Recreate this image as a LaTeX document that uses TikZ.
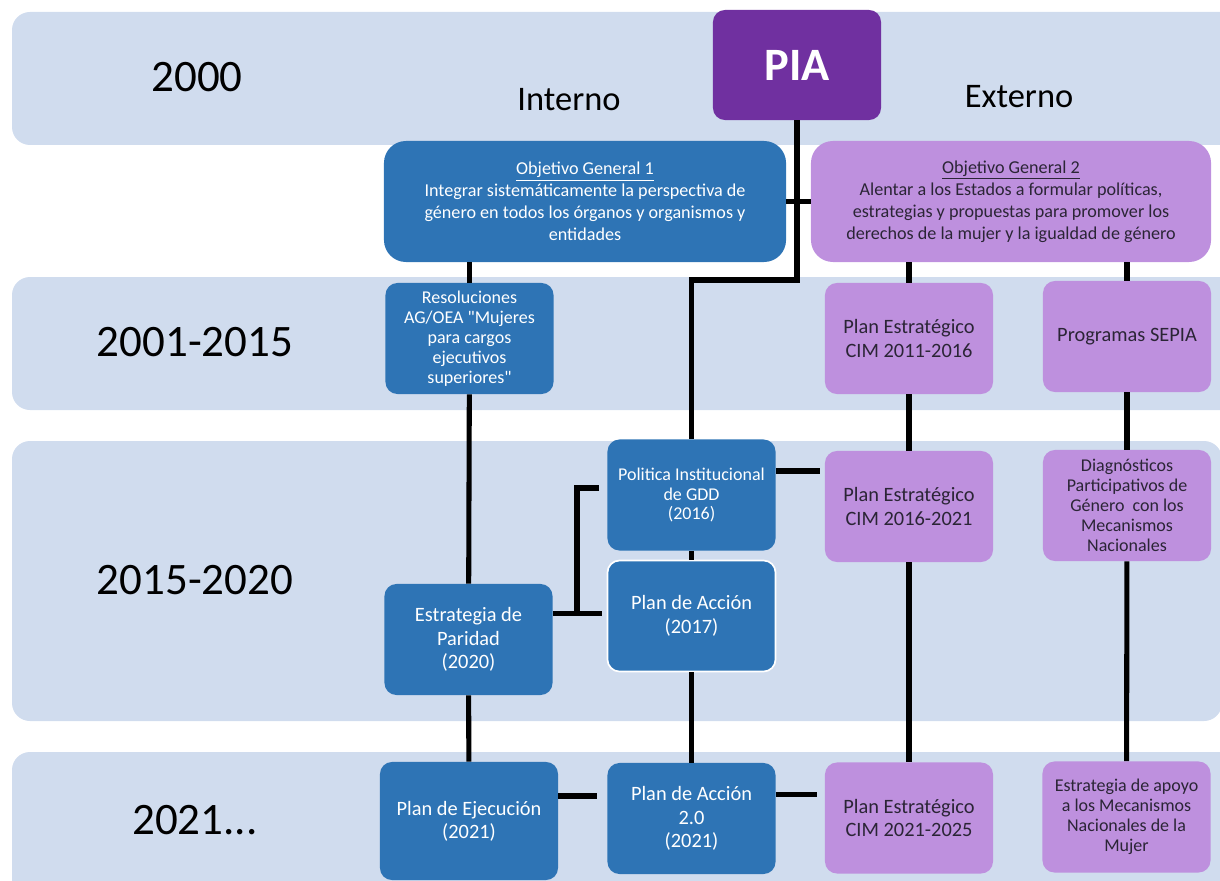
\documentclass[tikz,border=0pt]{standalone}
\usepackage{fontspec}
\setmainfont{Carlito}
\usepackage{xcolor}
\definecolor{franjacol}{HTML}{D0DCEE}
\definecolor{azul}{HTML}{2E74B5}
\definecolor{lila}{HTML}{BE90DE}
\definecolor{morado}{HTML}{7030A0}
\definecolor{tinta}{HTML}{2B2536}

\begin{document}
\begin{tikzpicture}[x=0.025cm, y=-0.025cm,
    franja/.style={fill=franjacol, rounded corners=0.45cm},
    caja/.style={rounded corners=0.3cm, align=center, inner sep=0pt,
                 minimum width=4.2cm, minimum height=2.775cm},
    interno/.style={caja, fill=azul, text=white},
    externo/.style={caja, fill=lila, text=tinta},
    chico/.style={font=\fontsize{12.8}{14.2}\selectfont},
    grande/.style={font=\fontsize{14.5}{16.6}\selectfont},
    anio/.style={font=\fontsize{32}{38}\selectfont},
    lado/.style={font=\fontsize{24.5}{29}\selectfont},
    enlace/.style={line width=3.6pt}]
\useasboundingbox (0,0) rectangle (1220,880);
\clip (0,0) rectangle (1220,880);
%
\fill[franja] (12,12) rectangle (1240,145);
\fill[franja] (12,277) rectangle (1240,410);
\fill[franja] (12,441) rectangle (1222,721);
\fill[franja] (12,752) rectangle (1240,920);
%
\node[anio] (a2000) at (197,77) {2000};
\node[anio] (a2001) at (195,342) {2001-2015};
\node[anio] (a2015) at (195,580) {2015-2020};
\node[anio] (a2021) at (195,820) {2021...};
\node[lado] (int) at (569,100) {Interno};
\node[lado] (ext) at (1019,97) {Externo};
%
\node[caja, fill=morado, text=white, minimum height=2.75cm,
      font=\bfseries\fontsize{33}{40}\selectfont] (pia) at (797,65) {PIA};
\node[interno, minimum width=10.05cm, minimum height=3.025cm, rounded corners=0.55cm,
      font=\fontsize{12.9}{15.6}\selectfont] (obj1) at (585,201.5)
  {\underline{Objetivo General 1}\\Integrar sistemáticamente la perspectiva de\\
   género en todos los órganos y organismos y\\entidades};
\node[externo, minimum width=10cm, minimum height=3.025cm, rounded corners=0.55cm,
      font=\fontsize{12.9}{15.6}\selectfont] (obj2) at (1011,201.5)
  {\underline{Objetivo General 2}\\Alentar a los Estados a formular políticas,\\
   estrategias y propuestas para promover los\\derechos de la mujer y la igualdad de género};
%
\node[interno, chico] (res) at (469.5,338.5)
  {Resoluciones\\AG/OEA \textquotedbl Mujeres\\para cargos\\ejecutivos\\superiores\textquotedbl};
\node[externo, grande] (cim11) at (909,338.5) {Plan Estratégico\\CIM 2011-2016};
\node[externo, grande] (sepia) at (1127,336.5) {Programas SEPIA};
%
\node[interno, chico] (pol) at (691.5,495) {Politica Institucional\\de GDD\\(2016)};
\node[externo, grande] (cim16) at (909,506.5) {Plan Estratégico\\CIM 2016-2021};
\node[externo, chico] (diag) at (1127,505.5)
  {Diagnósticos\\Participativos de\\Género~ con los\\Mecanismos\\Nacionales};
\node[interno, grande, draw=white, line width=1.2pt, font=\fontsize{14.5}{17.1}\selectfont]
  (a17) at (691.5,616) {Plan de Acción\\(2017)};
\node[interno, grande] (par) at (468.5,639.5) {Estrategia de\\Paridad\\(2020)};
%
\node[interno, grande, minimum width=4.45cm, minimum height=2.95cm] (eje) at (469,821)
  {Plan de Ejecución\\(2021)};
\node[interno, grande] (a20) at (691.5,818.5) {Plan de Acción\\2.0\\(2021)};
\node[externo, grande] (cim21) at (909,818) {Plan Estratégico\\CIM 2021-2025};
\node[externo, chico] (apoyo) at (1126.5,817)
  {Estrategia de apoyo\\a los Mecanismos\\Nacionales de la\\Mujer};
%
\coordinate (codo) at (797,280);
\coordinate (union) at (577,614);
\draw[enlace] (pia.south) -- (codo) -| (pol.north);
\draw[enlace] (obj1) -- (obj2);
\draw[enlace] (res.north) -- (res.north |- obj1.south);
\draw[enlace] (res) -- (par);
\draw[enlace] (par) -- (eje);
\draw[enlace] (cim11.north) -- (cim11.north |- obj2.south);
\draw[enlace] (sepia.north) -- (sepia.north |- obj2.south);
\draw[enlace] (cim11) -- (cim16);
\draw[enlace] (cim16) -- (cim21);
\draw[enlace] (sepia) -- (diag);
\draw[enlace] (diag) -- (apoyo);
\draw[enlace] (pol) -- (a17);
\draw[enlace] (a17) -- (a20);
%
\draw[enlace, shorten >=0.125cm] ([yshift=0.6cm]pol.east) -- ([yshift=0.6cm]pol.east -| cim16.west);
\draw[enlace, shorten <=0.2cm] ([yshift=0.175cm]pol.west) -| (union);
\draw[enlace, shorten >=0.125cm] ([yshift=0.64cm]par.east) -- ([yshift=0.64cm]par.east -| a17.west);
\draw[enlace, shorten >=0.25cm] ([yshift=0.625cm]eje.east) -- ([yshift=0.625cm]eje.east -| a20.west);
\draw[enlace, shorten >=0.2cm] ([yshift=0.61cm]a20.east) -- ([yshift=0.61cm]a20.east -| cim21.west);
\end{tikzpicture}
\end{document}
